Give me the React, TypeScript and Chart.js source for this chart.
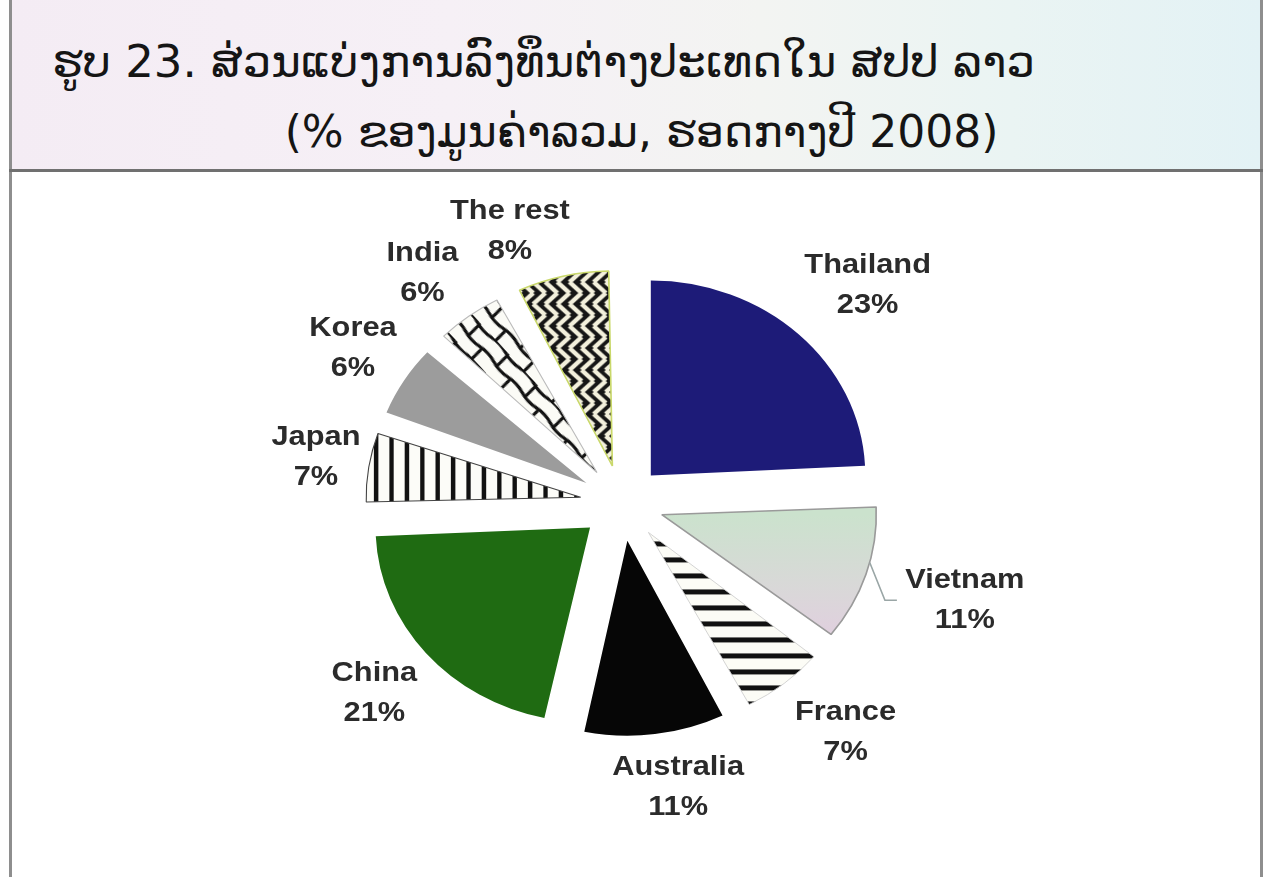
import React, { useEffect, useRef } from "react";
import { Chart, registerables } from "chart.js";

Chart.register(...registerables);

// ---- data ----
const categories = ["Thailand", "Vietnam", "France", "Australia", "China", "Japan", "Korea", "India", "The rest"];
// printed (rounded) shares, % of total value
const shares = [23, 11, 7, 11, 21, 7, 6, 6, 8];
const sliceValues = [24.2, 11.5, 6.8, 10.9, 20.9, 6.3, 6.4, 5.6, 7.4];
const titleLine1 = "ຮູບ 23. ສ່ວນແບ່ງການລົງທຶນຕ່າງປະເທດໃນ ສປປ ລາວ";
const titleLine2 = "(% ຂອງມູນຄ່າລວມ, ຮອດກາງປີ 2008)";

// ---- style ----
const SX = 1.1; // horizontal stretch of the drawing
const RADIUS = 195;
const OFFSET_PX = 38; // visible explode distance
const labelDist = [1.6, 1.674, 1.57, 1.48, 1.51, 1.446, 1.485, 1.5, 1.49];
const labelAngleTweak = [2.15, -0.5, -2.35, -2.8, 0, 0.55, 0.7, -1.6, -7.2];

function tile(w: number, h: number, draw: (g: CanvasRenderingContext2D) => void) {
  const c = document.createElement("canvas");
  c.width = w;
  c.height = h;
  const g = c.getContext("2d") as CanvasRenderingContext2D;
  draw(g);
  return c;
}

function makeFills(ctx: CanvasRenderingContext2D) {
  const hStripes = ctx.createPattern(
    tile(16, 16, (g) => {
      g.fillStyle = "#fcfcf6";
      g.fillRect(0, 0, 16, 16);
      g.fillStyle = "#111";
      g.fillRect(0, 0, 16, 5);
    }),
    "repeat"
  ) as CanvasPattern;
  const vStripes = ctx.createPattern(
    tile(14, 14, (g) => {
      g.fillStyle = "#fcfcf8";
      g.fillRect(0, 0, 14, 14);
      g.fillStyle = "#111";
      g.fillRect(0, 0, 4, 14);
    }),
    "repeat"
  ) as CanvasPattern;
  const brick = ctx.createPattern(
    tile(40, 28, (g) => {
      g.fillStyle = "#fbfbf6";
      g.fillRect(0, 0, 40, 28);
      g.strokeStyle = "#111";
      g.lineWidth = 3;
      g.lineJoin = "round";
      g.lineCap = "round";
      g.beginPath();
      g.moveTo(0, 1.5);
      g.quadraticCurveTo(10, 4, 20, 1.5);
      g.quadraticCurveTo(30, -1, 40, 1.5);
      g.moveTo(0, 15.5);
      g.quadraticCurveTo(10, 18, 20, 15.5);
      g.quadraticCurveTo(30, 13, 40, 15.5);
      g.moveTo(3, 1.5);
      g.lineTo(5, 15.5);
      g.moveTo(23, 15.5);
      g.lineTo(25, 29.5);
      g.stroke();
    }),
    "repeat"
  ) as CanvasPattern;
  try {
    brick.setTransform(new DOMMatrix().rotateSelf(0, 0, 50));
  } catch (e) {}
  const weave = ctx.createPattern(
    tile(22, 22, (g) => {
      g.fillStyle = "#161616";
      g.fillRect(0, 0, 22, 22);
      g.strokeStyle = "#f3f0dc";
      g.lineWidth = 4.2;
      g.beginPath();
      for (let x = -22; x <= 33; x += 11) {
        g.moveTo(x, 11);
        g.lineTo(x + 11, 0);
        g.moveTo(x, 11);
        g.lineTo(x + 11, 22);
      }
      g.stroke();
    }),
    "repeat"
  ) as CanvasPattern;
  return { hStripes, vStripes, brick, weave };
}

export default function App() {
  const ref = useRef<HTMLCanvasElement>(null);

  useEffect(() => {
    const canvas = ref.current;
    if (!canvas) return;
    const ctx = canvas.getContext("2d") as CanvasRenderingContext2D;
    const fills = makeFills(ctx);

    const staticFills: any[] = [
      "#1d1b78",
      null,
      fills.hStripes,
      "#060606",
      "#1f6b12",
      fills.vStripes,
      "#9c9c9c",
      fills.brick,
      fills.weave,
    ];

    const backgroundFn = (c: any) => {
      const i = c.dataIndex;
      if (i !== 1) return staticFills[i];
      const area = c.chart.chartArea;
      if (!area) return "#d8d8d8";
      const cy = (area.top + area.bottom) / 2;
      const gr = c.chart.ctx.createLinearGradient(0, cy, 0, cy + RADIUS * 0.75);
      gr.addColorStop(0, "#cbe2cd");
      gr.addColorStop(0.5, "#d9d8d8");
      gr.addColorStop(1, "#e4cbe2");
      return gr;
    };

    const borders = ["#1d1b78", "#9a9a9a", "#cccccc", "#060606", "#1f6b12", "#444444", "#9c9c9c", "#bbbbbb", "#c9d86a"];
    const borderWidths = [0, 1.5, 0.8, 0, 0, 1, 0, 1, 1.5];

    const stretchAndLabels = {
      id: "stretchAndLabels",
      afterDatasetUpdate(chart: any, args: any) {
        // keep every exploded slice at the same radius
        args.meta.data.forEach((el: any) => {
          const circ = el.endAngle - el.startAngle;
          const fix = 1 - Math.sin(Math.min(Math.PI, circ));
          el.outerRadius = RADIUS - OFFSET_PX * fix;
        });
      },
      beforeDatasetsDraw(chart: any) {
        const { ctx, chartArea } = chart;
        const cx = (chartArea.left + chartArea.right) / 2;
        ctx.save();
        ctx.translate(cx, 0);
        ctx.scale(SX, 1);
        ctx.translate(-cx, 0);
      },
      afterDatasetsDraw(chart: any) {
        const { ctx } = chart;
        ctx.restore();
        const meta = chart.getDatasetMeta(0);
        ctx.save();
        ctx.fillStyle = "#2b2b2b";
        ctx.font = "bold 28px 'Liberation Sans', Arial, sans-serif";
        ctx.textAlign = "center";
        ctx.textBaseline = "middle";
        meta.data.forEach((arc: any, i: number) => {
          const p = arc.getProps(["x", "y", "startAngle", "endAngle"], true);
          const mid = (p.startAngle + p.endAngle) / 2 + (labelAngleTweak[i] * Math.PI) / 180;
          const d = RADIUS * labelDist[i];
          const lx = p.x + Math.cos(mid) * d * SX;
          const ly = p.y + Math.sin(mid) * d;
          ctx.save();
          ctx.translate(lx, ly);
          ctx.scale(SX, 1);
          ctx.fillText(categories[i], 0, -20);
          ctx.fillText(shares[i] + "%", 0, 20);
          ctx.restore();
        });
        // leader line for Vietnam
        const va = meta.data[1].getProps(["x", "y", "startAngle", "endAngle"], true);
        const vm = (va.startAngle + va.endAngle) / 2;
        const a1 = vm - (3 * Math.PI) / 180;
        const a2 = vm + (4.3 * Math.PI) / 180;
        const r1 = RADIUS + OFFSET_PX;
        const r2 = RADIUS * 1.323;
        const x1 = va.x + Math.cos(a1) * r1 * SX;
        const y1 = va.y + Math.sin(a1) * r1;
        const x2 = va.x + Math.cos(a2) * r2 * SX;
        const y2 = va.y + Math.sin(a2) * r2;
        ctx.strokeStyle = "#9aa6a6";
        ctx.lineWidth = 1.5;
        ctx.beginPath();
        ctx.moveTo(x1, y1);
        ctx.lineTo(x2, y2);
        ctx.lineTo(x2 + 12, y2);
        ctx.stroke();
        ctx.restore();
      },
    };

    const chart = new Chart(canvas, {
      type: "pie",
      data: {
        labels: categories,
        datasets: [
          {
            data: sliceValues,
            backgroundColor: backgroundFn,
            borderColor: borders,
            borderWidth: borderWidths,
            offset: OFFSET_PX * 4,
            hoverOffset: 0,
          } as any,
        ],
      },
      options: {
        animation: false,
        responsive: false,
        maintainAspectRatio: false,
        radius: RADIUS,
        rotation: 0,
        layout: { padding: { left: 0, right: 21, top: 129, bottom: 0 } },
        plugins: {
          legend: { display: false },
          tooltip: { enabled: false },
          title: { display: false },
        },
        events: [],
      } as any,
      plugins: [stretchAndLabels],
    });
    return () => chart.destroy();
  }, []);

  const titleFont = "'DejaVu Sans', 'Noto Sans', sans-serif";

  return (
    <div
      style={{
        position: "absolute",
        left: 0,
        top: 0,
        width: 1265,
        height: 877,
        overflow: "hidden",
        background: "#ffffff",
      }}
    >
      <div
        style={{
          position: "absolute",
          left: 11,
          top: 0,
          width: 1250,
          height: 170,
          background:
            "linear-gradient(90deg, #f4ecf4 0%, #f6f0f6 35%, #f3f4f2 60%, #eaf4f3 80%, #e3f2f5 100%)",
        }}
      />
      <div
        style={{
          position: "absolute",
          left: 52,
          top: 32,
          fontFamily: titleFont,
          fontSize: 45,
          lineHeight: "60px",
          color: "#151515",
          whiteSpace: "nowrap",
        }}
      >
        {titleLine1}
      </div>
      <div
        style={{
          position: "absolute",
          left: 9,
          width: 1265,
          top: 102,
          textAlign: "center",
          fontFamily: titleFont,
          fontSize: 44,
          lineHeight: "60px",
          color: "#151515",
          whiteSpace: "nowrap",
        }}
      >
        {titleLine2}
      </div>
      <div style={{ position: "absolute", left: 9, top: 0, width: 3, height: 877, background: "#8e8e8e" }} />
      <div style={{ position: "absolute", left: 1260, top: 0, width: 3, height: 877, background: "#8e8e8e" }} />
      <div style={{ position: "absolute", left: 9, top: 169, width: 1254, height: 3, background: "#707070" }} />
      <canvas
        ref={ref}
        width={1265}
        height={877}
        style={{ position: "absolute", left: 0, top: 0, width: 1265, height: 877 }}
      />
    </div>
  );
}
